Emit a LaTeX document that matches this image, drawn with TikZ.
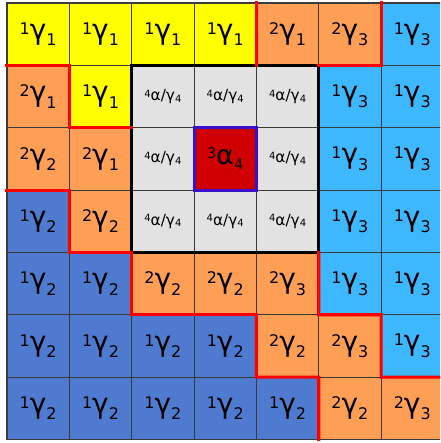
\documentclass[tikz,border=0pt]{standalone}
\usepackage{fontspec}
\setmainfont{DejaVu Sans}
\definecolor{yelc}{HTML}{FFFF00}
\definecolor{orgc}{HTML}{FF9F55}
\definecolor{lbc}{HTML}{3DB7FD}
\definecolor{dbc}{HTML}{4E7BD0}
\definecolor{grc}{HTML}{E2E2E2}
\definecolor{rdc}{HTML}{D00000}
\definecolor{redline}{HTML}{FF0000}
\definecolor{bluec}{HTML}{3A10CC}
\definecolor{gridc}{HTML}{3A3A3A}
\newcommand\glab[3]{{\fontsize{12}{12}\selectfont\raisebox{3.8pt}{#1}}{\fontsize{21}{21}\selectfont #2}{\fontsize{12}{12}\selectfont\raisebox{-4.8pt}{#3}}}
\newcommand\slab{{\fontsize{7.5}{7.5}\selectfont\raisebox{2.6pt}{4}}{\fontsize{11.5}{11.5}\selectfont α/γ}{\fontsize{7.5}{7.5}\selectfont\raisebox{-1.2pt}{4}}}
\newcommand\laba{\glab{1}{γ}{1}}
\newcommand\labb{\glab{2}{γ}{1}}
\newcommand\labc{\glab{2}{γ}{3}}
\newcommand\labd{\glab{1}{γ}{3}}
\newcommand\labe{\glab{2}{γ}{2}}
\newcommand\labf{\glab{1}{γ}{2}}
\newcommand\labs{\slab}
\newcommand\labr{{\fontsize{11}{11}\selectfont\raisebox{4.5pt}{3}}{\fontsize{20}{20}\selectfont α}{\fontsize{11}{11}\selectfont\raisebox{-3.5pt}{4}}}
\tikzset{
  cell/.style={draw=gridc, line width=0.8pt, minimum size=46.76pt, inner sep=0pt, outer sep=0pt, anchor=center},
  ka/.style={fill=yelc}, kb/.style={fill=orgc}, kc/.style={fill=orgc},
  kd/.style={fill=lbc}, ke/.style={fill=orgc}, kf/.style={fill=dbc},
  ks/.style={fill=grc}, kr/.style={fill=rdc},
  redb/.style={draw=redline, line width=2.3pt, line cap=rect, line join=miter},
  blackb/.style={draw=black, line width=2.3pt},
  blueb/.style={draw=bluec, line width=2.3pt}
}
\begin{document}
\begin{tikzpicture}[x=0.75pt,y=-0.75pt]
\useasboundingbox (0,0) rectangle (440,443);
\fill[white] (0,0) rectangle (440,443);
\clip (0,0) rectangle (440,443);
\foreach \row [count=\rr from 0] in {{a,a,a,a,b,c,d},{b,a,s,s,s,d,d},{e,b,s,r,s,d,d},{f,e,s,s,s,d,d},{f,f,e,e,c,d,d},{f,f,f,f,e,c,d},{f,f,f,f,f,e,c}}{
  \foreach \k [count=\cc from 0] in \row {
    \node[cell,k\k] (c\rr\cc) at ({7+62.35*(\cc+0.5)},{3+62.35*(\rr+0.5)}) {\csname lab\k\endcsname};
  }
}
\draw[blackb] (c12.north west) rectangle (c34.south east);
\draw[blueb] (c23.north west) rectangle (c23.south east);
\draw[redb] (c10.north west) -- (c10.north east) -- (c10.south east);
\draw[redb] (c11.south west) -- (c11.south east);
\draw[redb] (c03.north east) -- (c03.south east);
\draw[redb] (c05.north east) -- (c05.south east) -- (c05.south west);
\draw[redb] (c20.south west) -- (c20.south east);
\draw[redb] (c31.north west) -- (c31.south west) -- (c31.south east);
\draw[redb] (c42.north west) -- (c42.south west) -- (c43.south east);
\draw[redb] (c44.north east) -- (c44.south east) -- (c55.north east) -- (c55.south east) -- (c66.north east);
\draw[redb] (c54.north west) -- (c54.south west) -- (c54.south east) -- (c65.south west);
\end{tikzpicture}
\end{document}
